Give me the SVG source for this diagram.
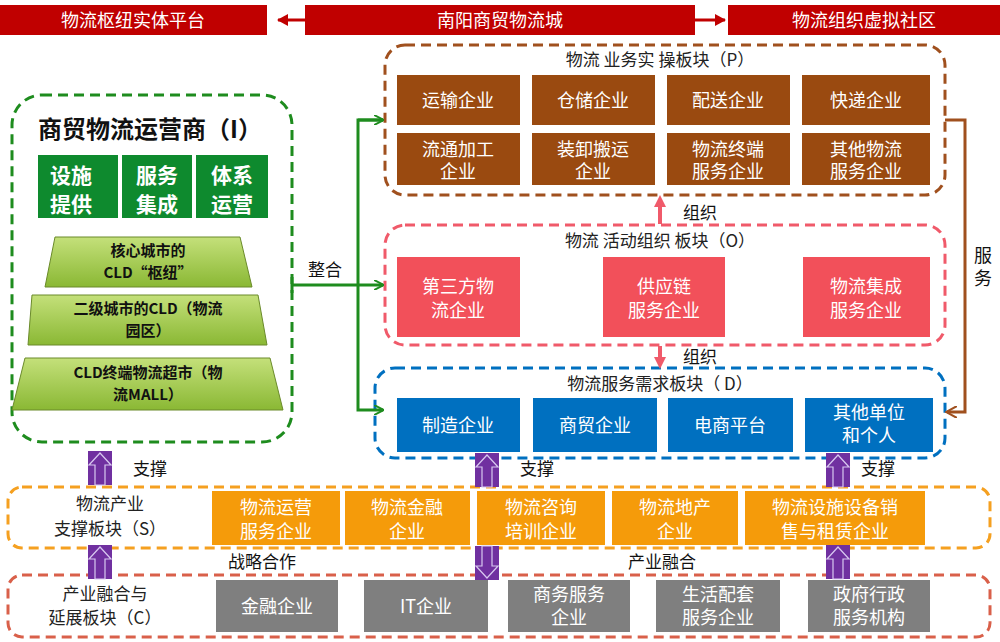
<svg xmlns="http://www.w3.org/2000/svg" width="1000" height="642" viewBox="0 0 1000 642">
<defs>
<marker id="ag" markerWidth="10" markerHeight="10" refX="9" refY="5" orient="auto" markerUnits="userSpaceOnUse"><path d="M0,0 L10,5 L0,10" fill="none" stroke="#1E8C1E" stroke-width="2"/></marker>
<marker id="ab" markerWidth="12" markerHeight="12" refX="10" refY="6" orient="auto" markerUnits="userSpaceOnUse"><path d="M0,0 L11,6 L0,12" fill="none" stroke="#A0501E" stroke-width="2"/></marker>
<marker id="ar" markerWidth="12" markerHeight="12" refX="10" refY="6" orient="auto" markerUnits="userSpaceOnUse"><path d="M0,0 L11,6 L0,12 Z" fill="#C00000"/></marker>
<marker id="ap" markerWidth="14" markerHeight="12" refX="7" refY="6" orient="auto" markerUnits="userSpaceOnUse"><path d="M0,0 L12,6 L0,12 Z" fill="#F05A6A"/></marker>
<linearGradient id="gt" x1="0" y1="0" x2="0" y2="1"><stop offset="0" stop-color="#C4E07A"/><stop offset="1" stop-color="#8AB834"/></linearGradient>
<g id="pu"><rect x="-12" y="0" width="24" height="34" fill="#7030A0"/><path d="M0,2 L11,14 L5,14 L5,34 L-5,34 L-5,14 L-11,14 Z" fill="none" stroke="#D8C8F0" stroke-width="1.2"/></g>
</defs>
<style>
text{font-family:"Noto Sans CJK SC","Liberation Sans",sans-serif;text-anchor:middle}
.w{fill:#fff;font-size:18px}
.k{fill:#222;font-size:17px}
.top{fill:#C00000}
.dash{fill:none;stroke-width:3;stroke-dasharray:10,6}
</style>
<rect width="1000" height="642" fill="#fff"/>
<g id="top">
<rect class="top" x="0" y="5" width="267" height="30"/><text class="w" x="133" y="27">物流枢纽实体平台</text>
<rect class="top" x="305" y="5" width="390" height="30"/><text class="w" x="500" y="27">南阳商贸物流城</text>
<rect class="top" x="728" y="5" width="272" height="30"/><text class="w" x="864" y="27">物流组织虚拟社区</text>
</g>
<g id="I">
<rect class="dash" x="12" y="95" width="280" height="347" rx="30" stroke="#1E8C1E" stroke-width="4"/>
<text x="150" y="138" font-size="24" font-weight="bold" fill="#111">商贸物流运营商（I）</text>
<rect x="38" y="155" width="80" height="63" fill="#0E8A2E"/><rect x="122" y="155" width="70" height="63" fill="#0E8A2E"/><rect x="196" y="155" width="72" height="63" fill="#0E8A2E"/>
<g fill="#fff" font-size="21" font-weight="bold"><text x="71" y="183">设施</text><text x="71" y="212">提供</text><text x="157" y="183">服务</text><text x="157" y="212">集成</text><text x="232" y="183">体系</text><text x="232" y="212">运营</text></g>
<path d="M55,237 L240,237 L252,287 L45,287 Z" fill="url(#gt)" stroke="#6A8A2A"/>
<path d="M32,295 L258,295 L267,345 L28,345 Z" fill="url(#gt)" stroke="#6A8A2A"/>
<path d="M25,358 L270,358 L283,410 L12,410 Z" fill="url(#gt)" stroke="#6A8A2A"/>
<g fill="#111" font-size="15" font-weight="bold"><text x="148" y="256">核心城市的</text><text x="148" y="278">CLD“枢纽”</text><text x="148" y="314">二级城市的CLD（物流</text><text x="148" y="336">园区）</text><text x="148" y="378">CLD终端物流超市（物</text><text x="148" y="400">流MALL）</text></g>
</g>
<g id="P">
<rect class="dash" x="385" y="45" width="560" height="150" rx="20" stroke="#A0501E"/>
<text class="k" x="660" y="66">物流 业务实 操板块（P）</text>
<g fill="#9A4A10"><rect x="397" y="75" width="123" height="50"/><rect x="532" y="75" width="123" height="50"/><rect x="667" y="75" width="123" height="50"/><rect x="802" y="75" width="128" height="50"/>
<rect x="397" y="133" width="123" height="52"/><rect x="532" y="133" width="123" height="52"/><rect x="667" y="133" width="123" height="52"/><rect x="802" y="133" width="128" height="52"/></g>
<g class="w"><text class="w" x="458" y="107">运输企业</text><text class="w" x="593" y="107">仓储企业</text><text class="w" x="728" y="107">配送企业</text><text class="w" x="866" y="107">快递企业</text>
<text class="w" x="458" y="156">流通加工</text><text class="w" x="458" y="178">企业</text><text class="w" x="593" y="156">装卸搬运</text><text class="w" x="593" y="178">企业</text><text class="w" x="728" y="156">物流终端</text><text class="w" x="728" y="178">服务企业</text><text class="w" x="866" y="156">其他物流</text><text class="w" x="866" y="178">服务企业</text></g>
</g>
<g id="O">
<rect class="dash" x="385" y="225" width="560" height="120" rx="20" stroke="#F05A6A"/>
<text class="k" x="660" y="247">物流 活动组织 板块（O）</text>
<g fill="#F2505A"><rect x="397" y="257" width="123" height="80"/><rect x="603" y="257" width="122" height="80"/><rect x="803" y="257" width="127" height="80"/></g>
<text class="w" x="458" y="293">第三方物</text><text class="w" x="458" y="317">流企业</text><text class="w" x="664" y="293">供应链</text><text class="w" x="664" y="317">服务企业</text><text class="w" x="866" y="293">物流集成</text><text class="w" x="866" y="317">服务企业</text>
</g>
<g id="D">
<rect class="dash" x="375" y="368" width="570" height="90" rx="20" stroke="#0070C0"/>
<text class="k" x="660" y="390">物流服务需求板块（ D）</text>
<g fill="#0070C0"><rect x="397" y="398" width="123" height="54"/><rect x="533" y="398" width="124" height="54"/><rect x="668" y="398" width="125" height="54"/><rect x="805" y="398" width="128" height="54"/></g>
<text class="w" x="458" y="432">制造企业</text><text class="w" x="595" y="432">商贸企业</text><text class="w" x="730" y="432">电商平台</text><text class="w" x="869" y="419">其他单位</text><text class="w" x="869" y="442">和个人</text>
</g>
<g id="S">
<rect class="dash" x="8" y="487" width="982" height="61" rx="14" stroke="#F5A020"/>
<text class="k" x="110" y="510">物流产业</text><text class="k" x="110" y="535">支撑板块（S）</text>
<g fill="#F59B0A"><rect x="212" y="491" width="128" height="54"/><rect x="345" y="491" width="125" height="54"/><rect x="477" y="491" width="128" height="54"/><rect x="612" y="491" width="126" height="54"/><rect x="745" y="491" width="180" height="54"/></g>
<text class="w" x="276" y="514">物流运营</text><text class="w" x="276" y="538">服务企业</text><text class="w" x="407" y="514">物流金融</text><text class="w" x="407" y="538">企业</text><text class="w" x="541" y="514">物流咨询</text><text class="w" x="541" y="538">培训企业</text><text class="w" x="675" y="514">物流地产</text><text class="w" x="675" y="538">企业</text><text class="w" x="835" y="514">物流设施设备销</text><text class="w" x="835" y="538">售与租赁企业</text>
</g>
<g id="C">
<rect class="dash" x="8" y="575" width="982" height="62" rx="14" stroke="#D9604A"/>
<text class="k" x="105" y="600">产业融合与</text><text class="k" x="105" y="624">延展板块（C）</text>
<g fill="#7F7F7F"><rect x="216" y="580" width="122" height="52"/><rect x="364" y="580" width="124" height="52"/><rect x="508" y="580" width="122" height="52"/><rect x="656" y="580" width="124" height="52"/><rect x="808" y="580" width="122" height="52"/></g>
<text class="w" x="277" y="613">金融企业</text><text class="w" x="426" y="613">IT企业</text><text class="w" x="569" y="601">商务服务</text><text class="w" x="569" y="624">企业</text><text class="w" x="718" y="601">生活配套</text><text class="w" x="718" y="624">服务企业</text><text class="w" x="869" y="601">政府行政</text><text class="w" x="869" y="624">服务机构</text>
</g>
<g id="connectors">
<line x1="305" y1="20" x2="278" y2="20" stroke="#C00000" stroke-width="3" marker-end="url(#ar)"/>
<line x1="695" y1="20" x2="725" y2="20" stroke="#C00000" stroke-width="3" marker-end="url(#ar)"/>
<g stroke="#1E8C1E" stroke-width="3" fill="none">
<line x1="292" y1="277" x2="292" y2="293"/>
<line x1="292" y1="285" x2="383" y2="285" marker-end="url(#ag)"/>
<path d="M383,120 L358,120 L358,410 L383,410" marker-end="url(#ag)"/>
<line x1="358" y1="120" x2="383" y2="120" marker-end="url(#ag)"/>
</g>
<text x="325" y="276" font-size="17" fill="#111">整合</text>
<path d="M945,120 L965,120 L965,412 L947,412" fill="none" stroke="#A0501E" stroke-width="3" marker-end="url(#ab)"/>
<text x="983" y="262" font-size="18" fill="#111">服</text><text x="983" y="285" font-size="18" fill="#111">务</text>
<line x1="660" y1="224" x2="660" y2="200" stroke="#F05A6A" stroke-width="4" marker-end="url(#ap)"/>
<text x="700" y="219" font-size="17" fill="#111">组织</text>
<line x1="660" y1="346" x2="660" y2="364" stroke="#F05A6A" stroke-width="4" marker-end="url(#ap)"/>
<text x="700" y="363" font-size="17" fill="#111">组织</text>
<use href="#pu" x="100" y="451"/><use href="#pu" x="487" y="453"/><use href="#pu" x="838" y="453"/>
<use href="#pu" x="100" y="545"/><use href="#pu" transform="translate(487,580) scale(1,-1)"/><use href="#pu" x="838" y="545"/>
<text x="150" y="475" font-size="17" fill="#111">支撑</text><text x="537" y="475" font-size="17" fill="#111">支撑</text><text x="878" y="475" font-size="17" fill="#111">支撑</text>
<text x="262" y="568" font-size="17" fill="#111">战略合作</text><text x="662" y="568" font-size="17" fill="#111">产业融合</text>
</g>
</svg>
